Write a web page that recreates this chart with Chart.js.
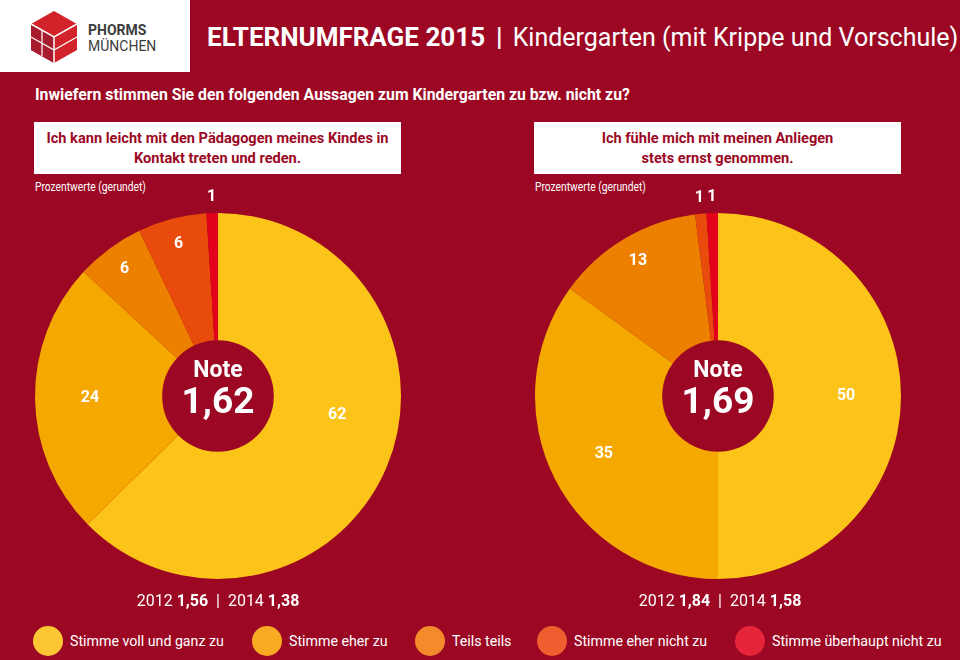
<!DOCTYPE html>
<html lang="de">
<head>
<meta charset="utf-8">
<script src="https://cdn.jsdelivr.net/npm/chart.js@4/dist/chart.umd.min.js"></script>
<style>
  html, body { margin: 0; padding: 0; }
  body { width: 960px; height: 660px; background: #9c0824; position: relative; overflow: hidden;
         font-family: Roboto, "Noto Sans", sans-serif; color: #fff; }
  .abs { position: absolute; }
  #logoBox { left: 0; top: 0; width: 190px; height: 72px; background: #fff; }
  #logoText { left: 88px; top: 22px; color: #3c3c3b; font-size: 14px; line-height: 16px; }
  #logoText b { font-weight: 700; }
  #title { left: 207px; top: 22px; font-size: 26px; white-space: nowrap; }
  #title b { font-weight: 700; }
  #title .sep { font-weight: 700; margin: 0 10px 0 11px; }
  #title .sub { font-size: 25px; }
  #subtitle { left: 35px; top: 85px; font-size: 15.8px; font-weight: 700; white-space: nowrap; }
  .qbox { top: 122px; width: 367px; height: 52px; background: #fff; color: #9c0824; font-weight: 700;
          font-size: 14.6px; line-height: 20px; text-align: center; box-sizing: border-box; padding-top: 6px; }
  .note { font-size: 12.5px; top: 179px; transform: scaleX(0.82); transform-origin: left top; white-space: nowrap; }
  .prev { top: 591px; width: 400px; text-align: center; font-size: 16px; }
  .prev b { font-weight: 700; }
  canvas { position: absolute; }
  #legend { left: 0; top: 625px; width: 960px; height: 32px; }
  .lg { position: absolute; top: 0; height: 32px; display: flex; align-items: center; font-size: 14.2px; white-space: nowrap; }
  .lg span.dot { width: 30px; height: 30px; border-radius: 50%; margin-right: 7px; display: inline-block; }
</style>
</head>
<body>
<div id="logoBox" class="abs">
  <svg class="abs" style="left:28px;top:10px" width="52" height="54" viewBox="0 0 52 54">
    <polygon points="26,1 49,14 49,40 26,53 3,40 3,14" fill="#d2232a"/>
    <polygon points="3,14 26,27 26,53 3,40" fill="#a61c2e"/>
    <polyline points="3,14 26,27 49,14" stroke="#fff" stroke-width="1.5" fill="none"/>
    <polyline points="26,27 26,53" stroke="#fff" stroke-width="1.5" fill="none"/>
    <polyline points="3,27 26,40 49,27" stroke="#fff" stroke-width="1.2" fill="none"/>
    <polyline points="14,20 14,46" stroke="#fff" stroke-width="1.2" fill="none"/>
  </svg>
</div>
<div id="logoText" class="abs"><b>PHORMS</b><br>MÜNCHEN</div>
<div id="title" class="abs"><b>ELTERNUMFRAGE 2015</b><span class="sep">|</span><span class="sub">Kindergarten (mit Krippe und Vorschule)</span></div>
<div id="subtitle" class="abs">Inwiefern stimmen Sie den folgenden Aussagen zum Kindergarten zu bzw. nicht zu?</div>
<div class="qbox abs" style="left:34px">Ich kann leicht mit den Pädagogen meines Kindes in<br>Kontakt treten und reden.</div>
<div class="qbox abs" style="left:534px">Ich fühle mich mit meinen Anliegen<br>stets ernst genommen.</div>
<div class="note abs" style="left:35px">Prozentwerte (gerundet)</div>
<div class="note abs" style="left:535px">Prozentwerte (gerundet)</div>
<canvas id="pie1" width="420" height="440" style="left:8px;top:176px;width:420px;height:440px"></canvas>
<canvas id="pie2" width="420" height="440" style="left:508px;top:176px;width:420px;height:440px"></canvas>
<div class="prev abs" style="left:18px">2012 <b>1,56</b> &nbsp;|&nbsp; 2014 <b>1,38</b></div>
<div class="prev abs" style="left:520px">2012 <b>1,84</b> &nbsp;|&nbsp; 2014 <b>1,58</b></div>
<div id="legend" class="abs"></div>
<script>
const categories = ["Stimme voll und ganz zu", "Stimme eher zu", "Teils teils", "Stimme eher nicht zu", "Stimme überhaupt nicht zu"];
const kontaktValues = [62, 24, 6, 6, 1];
const ernstValues = [50, 35, 13, 1, 1];
const kontaktNote = "1,62";
const ernstNote = "1,69";
const sliceColors = ["#fcc419", "#f5a800", "#ee8000", "#e84b0b", "#e3001b"];
const legendColors = ["#fdc733", "#f8aa23", "#f38a2b", "#ef5e2e", "#e6243a"];
const legendX = [33, 252, 415, 537, 735];

const sliceLabels = {
  id: "sliceLabels",
  afterDatasetsDraw(chart) {
    const ctx = chart.ctx;
    const meta = chart.getDatasetMeta(0);
    const data = chart.data.datasets[0].data;
    ctx.save();
    ctx.fillStyle = "#fff";
    ctx.font = "bold 16px Roboto, 'Noto Sans', sans-serif";
    ctx.textAlign = "center";
    ctx.textBaseline = "middle";
    meta.data.forEach((arc, i) => {
      const v = data[i];
      let mid = (arc.startAngle + arc.endAngle) / 2;
      let r;
      if (v > 55) { r = arc.outerRadius * 0.66; mid -= 0.24; } // big slice label sits a bit higher
      else if (v >= 20) r = arc.outerRadius * 0.7;
      else if (v >= 3) r = arc.outerRadius * 0.86;
      else r = arc.outerRadius + 16;
      ctx.fillText(String(v), arc.x + Math.cos(mid) * r, arc.y + Math.sin(mid) * r);
    });
    // note in the centre
    const a = meta.data[0];
    ctx.font = "bold 23px Roboto, 'Noto Sans', sans-serif";
    ctx.fillText("Note", a.x, a.y - 25);
    ctx.font = "bold 37px Roboto, 'Noto Sans', sans-serif";
    ctx.fillText(chart.options.plugins.sliceLabels.note, a.x, a.y + 8);
    ctx.restore();
  }
};

function makePie(id, values, note) {
  return new Chart(document.getElementById(id), {
    type: "doughnut",
    data: {
      labels: categories,
      datasets: [{
        data: values,
        backgroundColor: sliceColors,
        borderWidth: 0,
      }]
    },
    options: {
      responsive: false,
      animation: false,
      cutout: "30.5%",
      layout: { padding: { left: 27, right: 27, top: 37, bottom: 37 } },
      plugins: {
        legend: { display: false },
        tooltip: { enabled: false },
        sliceLabels: { note: note }
      }
    },
    plugins: [sliceLabels]
  });
}

makePie("pie1", kontaktValues, kontaktNote);
makePie("pie2", ernstValues, ernstNote);

document.getElementById("legend").innerHTML = categories.map((c, i) =>
  `<div class="lg" style="left:${legendX[i]}px"><span class="dot" style="background:${legendColors[i]}"></span>${c}</div>`
).join("");
</script>
</body>
</html>
